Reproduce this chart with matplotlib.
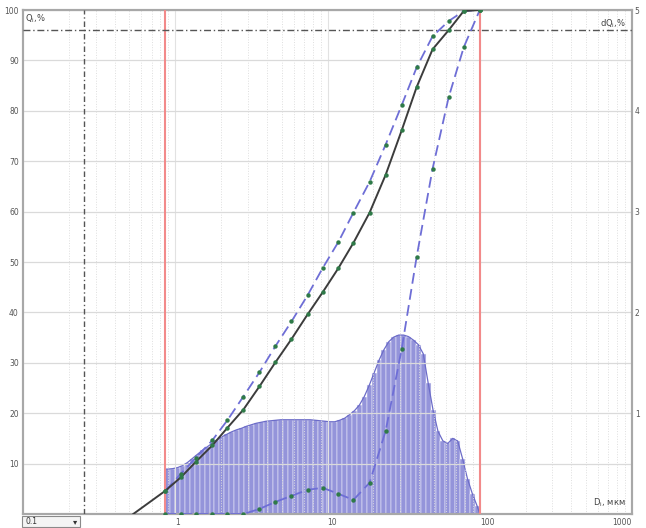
import numpy as np
import matplotlib.pyplot as plt
from matplotlib.patches import Rectangle

# particle sizes (um) where the curves have markers
sizes = [0.86, 1.09, 1.37, 1.75, 2.2, 2.8, 3.57, 4.55, 5.8, 7.4, 9.3,
         11.8, 14.8, 18.9, 24.1, 30.7, 38.5, 49, 62.5, 78.5, 100]

# cumulative Q, % (solid black), its tail starts below the first marker
q_start = (0.53, 0.0)
q_black = [4.6, 7.3, 10.4, 13.6, 17.1, 20.7, 25.3, 30.1, 34.7, 39.6, 44.0,
           48.8, 53.8, 59.8, 67.3, 76.1, 84.7, 92.2, 96.0, 99.8, 100]
# upper dashed curve
q_upper = [4.6, 8.0, 11.2, 14.6, 18.6, 23.3, 28.1, 33.3, 38.2, 43.4, 48.8,
           54.0, 59.8, 65.9, 73.3, 81.1, 88.6, 94.8, 97.8, 99.8, 100]
# lower dashed curve
q_lower = [0, 0, 0, 0, 0, 0, 1.0, 2.4, 3.6, 4.8, 5.2,
           4.0, 2.8, 6.2, 16.5, 32.7, 51.0, 68.5, 82.7, 92.6, 100]

# differential distribution dQ, % (right axis), 64 log bins from 0.86 to 100 um
hist_lo, hist_hi = 0.86, 100
dq = [0.445, 0.45, 0.46, 0.48, 0.51, 0.55, 0.59, 0.63, 0.665, 0.70,
      0.735, 0.765, 0.79, 0.815, 0.835, 0.85, 0.87, 0.885, 0.90, 0.91,
      0.92, 0.925, 0.93, 0.935, 0.935, 0.935, 0.935, 0.935, 0.935, 0.935,
      0.93, 0.925, 0.92, 0.915, 0.915, 0.93, 0.95, 0.985, 1.025, 1.08,
      1.165, 1.275, 1.40, 1.525, 1.63, 1.71, 1.755, 1.775, 1.775, 1.76,
      1.725, 1.68, 1.59, 1.30, 1.03, 0.82, 0.725, 0.70, 0.75, 0.725,
      0.55, 0.35, 0.20, 0.075]

# limit lines
red_lines = [0.86, 100]
vline_dashdot = 0.25
hline_dashdot = 96.0

left_ticks = [10, 20, 30, 40, 50, 60, 70, 80, 90, 100]
right_ticks = [1, 2, 3, 4, 5]
x_ticks = [1, 10, 100, 1000]

fig = plt.figure(figsize=(6.46, 5.28), dpi=100)
ax = fig.add_axes([23 / 646, 1 - 514 / 528, 609 / 646, 504 / 528])
ax2 = ax.twinx()
ax.set_zorder(2)
ax.patch.set_visible(False)

ax.set_xscale('log')
ax.set_xlim(0.1, 1000)
ax.set_ylim(0, 100)
ax2.set_ylim(0, 5)

# histogram on the dQ axis: thin bars with white gaps, outline through the tops
edges = np.geomspace(hist_lo, hist_hi, len(dq) + 1)
centers = np.sqrt(edges[:-1] * edges[1:])
ax2.bar(edges[:-1], dq, width=np.diff(edges), align='edge',
        color='#9494da', edgecolor='#f4f4fb', linewidth=0.35)
ax2.plot(np.r_[hist_lo, centers, hist_hi], np.r_[dq[0], dq, 0],
         color='#6c6cc8', linewidth=0.9)
ax2.plot([hist_lo, hist_lo], [0, dq[0]], color='#6c6cc8', linewidth=0.9)

# grid
ax.grid(True, which='major', axis='y', color='#dadada', linewidth=0.9)
ax.grid(True, which='major', axis='x', color='#e2e2e2', linewidth=0.8)
ax.grid(True, which='minor', axis='x', color='#dedede', linewidth=0.7, linestyle=':')

for xr in red_lines:
    ax.axvline(xr, color='#f28a8a', linewidth=1.5, zorder=3)
ax.axvline(vline_dashdot, color='#555555', linewidth=1.0,
           linestyle=(0, (4, 2, 1, 2)), zorder=3)
ax.axhline(hline_dashdot, color='#555555', linewidth=1.0,
           linestyle=(0, (5, 2, 1, 2)), zorder=3)

dash_kw = dict(color='#6e6ed6', linewidth=1.3, dashes=(6, 3), zorder=4)
mark_kw = dict(linestyle='none', marker='o', markersize=3.2,
               color='#2f7a48', markeredgewidth=0, zorder=6)
ax.plot(sizes, q_upper, **dash_kw)
ax.plot(sizes, q_lower, **dash_kw)
ax.plot([q_start[0]] + sizes, [q_start[1]] + q_black,
        color='#3c3c3c', linewidth=1.4, zorder=5)
for series in (q_upper, q_lower, q_black):
    ax.plot(sizes, series, **mark_kw)

# ticks and labels
ax.set_yticks(left_ticks)
ax.set_yticklabels([str(t) for t in left_ticks])
ax2.set_yticks(right_ticks)
ax2.set_yticklabels([str(t) for t in right_ticks])
ax.set_xticks(x_ticks)
ax.set_xticklabels(['1', '10', '100', '1000'])
for lbl in ax.get_xticklabels()[:3]:
    lbl.set_horizontalalignment('left')
ax.get_xticklabels()[3].set_horizontalalignment('right')
ax.tick_params(axis='both', which='both', length=0, labelsize=5.5,
               labelcolor='#555555')
ax.tick_params(axis='y', pad=3)
ax.tick_params(axis='x', pad=3)
ax2.tick_params(axis='y', length=0, labelsize=5.5, labelcolor='#555555', pad=2)

for a in (ax, ax2):
    for s in a.spines.values():
        s.set_color('#a8a8a8')
        s.set_linewidth(1.5)

ax.text(0.004, 0.995, r'Q$_\mathrm{i}$,%', transform=ax.transAxes,
        fontsize=6, color='#444444', ha='left', va='top')
ax.text(0.99, 0.985, r'dQ$_\mathrm{i}$,%', transform=ax.transAxes,
        fontsize=6, color='#444444', ha='right', va='top')
ax.text(0.99, 0.01, r'D$_\mathrm{i}$, мкм', transform=ax.transAxes,
        fontsize=6, color='#444444', ha='right', va='bottom')

# the unit drop-down under the axis
fig.patches.append(Rectangle((22 / 646, 1 / 528), 58 / 646, 11 / 528,
                             transform=fig.transFigure, facecolor='#f4f4f4',
                             edgecolor='#8a8a8a', linewidth=0.8))
fig.text(26 / 646, 6.5 / 528, '0.1', fontsize=5.5, color='#333333', va='center')
fig.text(75 / 646, 6.5 / 528, '▾', fontsize=6, color='#333333',
         va='center', ha='center')

fig.savefig('out.png', dpi=100)
